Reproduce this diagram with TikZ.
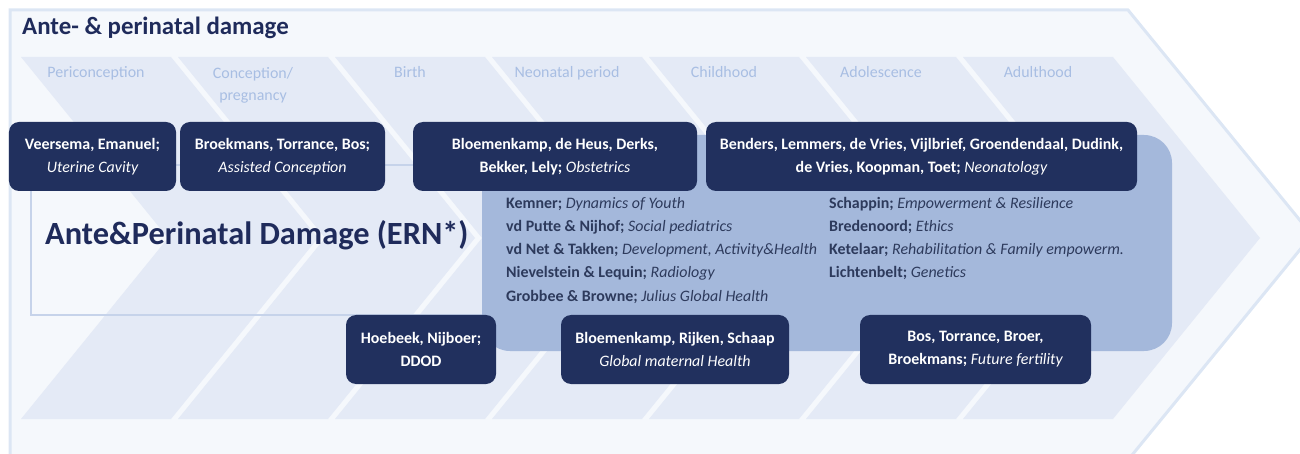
\documentclass[tikz,border=0pt]{standalone}
\usepackage{fontspec}
\setmainfont{Carlito}
\definecolor{outerfill}{HTML}{F5F8FC}
\definecolor{outerline}{HTML}{DCE6F4}
\definecolor{segfill}{HTML}{E4EAF6}
\definecolor{phasec}{HTML}{A8BEE3}
\definecolor{rectline}{HTML}{C6D3EA}
\definecolor{midfill}{HTML}{A4B8DB}
\definecolor{navy}{HTML}{21305E}
\definecolor{titlec}{HTML}{1F2B5B}
\definecolor{listc}{HTML}{2D3A5C}
\newcommand{\ital}[1]{{\mdseries\itshape #1}}
\begin{document}
\begin{tikzpicture}[x=1bp,y=-1bp,
  phase/.style={anchor=base,inner sep=0,text=phasec,font=\fontsize{16}{23}\selectfont},
  navybox/.style={fill=navy,rounded corners=10bp,text=white,align=center,inner sep=0,
     minimum height=69bp,font=\bfseries\fontsize{16}{23}\selectfont},
  listline/.style={anchor=base west,inner sep=0,text=listc,font=\bfseries\fontsize{16}{23}\selectfont}]
\useasboundingbox (0,0) rectangle (1300,454);
\begin{scope}
\clip (0,0) rectangle (1300,454);
\fill[outerfill] (10,10) -- (1128,10) -- (1312,235) -- (1128,460) -- (10,460) -- cycle;
\draw[outerline,line width=3bp] (10,470) -- (10,10) -- (1128,10) -- (1312,235) -- (1128,460);
\end{scope}
% chevron segments
\foreach \i in {0,...,6}{
  \pgfmathsetmacro{\xl}{21+157*\i}
  \pgfmathsetmacro{\xr}{\xl+150}
  \fill[segfill] (\xl,57) -- (\xr,57) -- (\xr+147,238) -- (\xr,419) -- (\xl,419) -- (\xl+147,238) -- cycle;
}
% phase labels
\node[phase] (p1) at (96,78) {Periconception};
\node[phase,align=center] (p2) at (253,101) {Conception/\\pregnancy};
\node[phase] (p3) at (410,78) {Birth};
\node[phase] (p4) at (567,78) {Neonatal period};
\node[phase] (p5) at (724,78) {Childhood};
\node[phase] (p6) at (881,78) {Adolescence};
\node[phase] (p7) at (1038,78) {Adulthood};
% inner rectangle
\draw[rectline,line width=2.5bp] (31,165) rectangle (500,315);
% medium area
\fill[midfill,rounded corners=28bp] (482,135) rectangle (1172,351);
% title
\node[anchor=base west,inner sep=0,text=titlec,font=\bfseries\fontsize{25}{30}\selectfont] (title) at (22,35) {Ante- \& perinatal damage};
\node[anchor=base west,inner sep=0,text=titlec,font=\bfseries\fontsize{32.5}{38}\selectfont] (ern) at (45,245) {Ante\&Perinatal Damage (ERN*)};
% navy boxes
\node[navybox,minimum width=167bp] (b1) at (92.5,156.5) {Veersema, Emanuel;\\\ital{Uterine Cavity}};
\node[navybox,minimum width=205bp] (b2) at (282.5,156.5) {Broekmans, Torrance, Bos;\\\ital{Assisted Conception}};
\node[navybox,minimum width=284bp] (b3) at (555,156.5) {Bloemenkamp, de Heus, Derks,\\Bekker, Lely; \ital{Obstetrics}};
\node[navybox,minimum width=431bp] (b4) at (921.5,156.5) {Benders, Lemmers, de Vries, Vijlbrief, Groendendaal, Dudink,\\de Vries, Koopman, Toet; \ital{Neonatology}};
\node[navybox,minimum width=150bp] (b5) at (421,349.5) {Hoebeek, Nijboer;\\DDOD};
\node[navybox,minimum width=228bp] (b6) at (675,349.5) {Bloemenkamp, Rijken, Schaap\\\ital{Global maternal Health}};
\node[navybox,minimum width=231bp] (b7) at (975.5,349.5) {Bos, Torrance, Broer,\\Broekmans; \ital{Future fertility}};
% list
\node[listline] (l1) at (506,209) {Kemner; \ital{Dynamics of Youth}};
\node[listline] (l2) at (506,232) {vd Putte \& Nijhof; \ital{Social pediatrics}};
\node[listline] (l3) at (506,255) {vd Net \& Takken; \ital{Development, Activity\&Health}};
\node[listline] (l4) at (506,278) {Nievelstein \& Lequin; \ital{Radiology}};
\node[listline] (l5) at (506,302) {Grobbee \& Browne; \ital{Julius Global Health}};
\node[listline] (r1) at (829,209) {Schappin; \ital{Empowerment \& Resilience}};
\node[listline] (r2) at (829,232) {Bredenoord; \ital{Ethics}};
\node[listline] (r3) at (829,255) {Ketelaar; \ital{Rehabilitation \& Family empowerm.}};
\node[listline] (r4) at (829,278) {Lichtenbelt; \ital{Genetics}};
\end{tikzpicture}
\end{document}
